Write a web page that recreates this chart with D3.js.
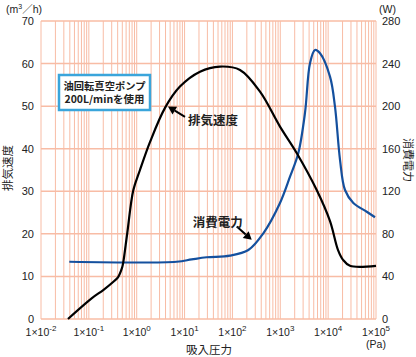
<!DOCTYPE html>
<html><head><meta charset="utf-8">
<script src="https://cdn.jsdelivr.net/npm/d3@7"></script>
<style>
body{margin:0;background:#fff;}
svg{display:block;}
text{font-family:"Liberation Sans","Noto Sans CJK JP",sans-serif;fill:#222;}
.jp{font-family:"Noto Sans CJK JP",sans-serif;}
</style></head>
<body>
<svg id="c" width="416" height="357"></svg>
<script>
// ---- data ----
const speedPressure = [0.0366, 0.116, 0.2, 0.33, 0.406, 0.493, 0.525, 0.635, 0.85, 1.17, 1.9, 3.9, 8.0, 21, 55, 144, 377, 986, 2200, 5770, 10940, 16100, 20500, 28600, 100000];
const speedValues   = [0, 4.9, 6.8, 8.8, 9.8, 12.0, 13.4, 20.2, 30.3, 35.0, 41.6, 49.6, 54.6, 58.1, 59.3, 58.5, 53.4, 45.2, 39.0, 30.3, 23.0, 16.2, 13.9, 12.5, 12.5];
const powerPressure = [0.039, 6.84, 14.1, 29, 89, 215, 442, 986, 1596, 2383, 3281, 4178, 5309, 6761, 10940, 13900, 17700, 22500, 33600, 64000, 95300];
const powerValues   = [53.8, 53.8, 56, 58, 59.5, 64.8, 80.5, 109, 133.7, 156, 193.6, 240.3, 252.8, 249.7, 227.7, 199.5, 149.6, 121.2, 109, 100.8, 95.6];
const leftTicks  = [0, 10, 20, 30, 40, 50, 60, 70];
const rightTicks = [0, 40, 80, 120, 160, 200, 240, 280];
const xExponents = [-2, -1, 0, 1, 2, 3, 4, 5];

// ---- layout ----
const L = 41, R = 376, T = 21, B = 319;
const svg = d3.select("#c");
const x = d3.scaleLog().domain([0.01, 1e5]).range([L, R]);
const y = d3.scaleLinear().domain([0, 70]).range([B, T]);
const y2 = d3.scaleLinear().domain([0, 280]).range([B, T]);

// grid
const gridColor = "#f8bca5";
const minor = [];
for (let k = -2; k <= 4; k++) for (let m = 1; m <= 9; m++) minor.push(m * Math.pow(10, k));
minor.push(1e5);
svg.append("g").selectAll("line").data(minor).join("line")
  .attr("x1", d => x(d)).attr("x2", d => x(d)).attr("y1", T).attr("y2", B)
  .attr("stroke", gridColor).attr("stroke-width", 1);
svg.append("g").selectAll("line").data(leftTicks).join("line")
  .attr("x1", L).attr("x2", R).attr("y1", d => y(d)).attr("y2", d => y(d))
  .attr("stroke", gridColor).attr("stroke-width", 1.5);

// left ticks
svg.append("g").selectAll("text").data(leftTicks).join("text")
  .attr("x", 34).attr("y", d => y(d) + 4).attr("text-anchor", "end")
  .attr("font-size", 11).text(d => d);
// right ticks
svg.append("g").selectAll("text").data(rightTicks).join("text")
  .attr("x", 382).attr("y", d => y2(d) + 4).attr("text-anchor", "start")
  .attr("font-size", 11).text(d => d);

// x tick labels
const xl = svg.append("g").selectAll("text").data(xExponents).join("text")
  .attr("x", d => x(Math.pow(10, d))).attr("y", 336).attr("text-anchor", "middle")
  .attr("font-size", 10.5);
xl.append("tspan").text("1×10");
xl.append("tspan").attr("dy", -5).attr("font-size", 8).text(d => d);

// units
const u1 = svg.append("text").attr("x", 6).attr("y", 13).attr("font-size", 10.5);
u1.append("tspan").text("(m");
u1.append("tspan").attr("dy", -4).attr("font-size", 7).text("3");
u1.append("tspan").attr("dy", 4).text("／h)");
svg.append("text").attr("x", 379).attr("y", 13).attr("font-size", 10.5).text("(W)");
svg.append("text").attr("x", 376).attr("y", 348).attr("text-anchor", "middle").attr("font-size", 10.5).text("(Pa)");

// axis titles
svg.append("text").attr("class", "jp").attr("x", 209).attr("y", 354).attr("text-anchor", "middle")
  .attr("font-size", 11.5).text("吸入圧力");
svg.append("text").attr("class", "jp").attr("transform", "translate(12,168) rotate(-90)")
  .attr("text-anchor", "middle").attr("font-size", 11.5).text("排気速度");
svg.append("text").attr("class", "jp").attr("transform", "translate(404,160) rotate(90)")
  .attr("text-anchor", "middle").attr("font-size", 11).text("消費電力");

// curves
const speedPts = speedPressure.map((p, i) => [x(p), y(speedValues[i])]);
const powerPts = powerPressure.map((p, i) => [x(p), y2(powerValues[i])]);
const line = d3.line().curve(d3.curveCatmullRom.alpha(0.5));
svg.append("path").attr("d", line(powerPts)).attr("fill", "none")
  .attr("stroke", "#14509e").attr("stroke-width", 2.2);
svg.append("path").attr("d", line(speedPts)).attr("fill", "none")
  .attr("stroke", "#000").attr("stroke-width", 2.2);

// legend box
svg.append("rect").attr("x", 59).attr("y", 75).attr("width", 91).attr("height", 35)
  .attr("fill", "#fff").attr("stroke", "#3aa5db").attr("stroke-width", 2.5);
svg.append("text").attr("class", "jp").attr("x", 104.5).attr("y", 89.5).attr("text-anchor", "middle")
  .attr("font-size", 10).attr("font-weight", "bold")
  .attr("textLength", 82).attr("lengthAdjust", "spacingAndGlyphs").text("油回転真空ポンプ");
svg.append("text").attr("class", "jp").attr("x", 104.5).attr("y", 103).attr("text-anchor", "middle")
  .attr("font-size", 10).attr("font-weight", "bold")
  .attr("textLength", 80).attr("lengthAdjust", "spacingAndGlyphs").text("200L/minを使用");

// annotations with arrows
function arrow(x1, y1, x2, y2) {
  const g = svg.append("g");
  const a = Math.atan2(y2 - y1, x2 - x1);
  const hl = 8, hw = 4.5;
  const bx = x2 - hl * Math.cos(a), by = y2 - hl * Math.sin(a);
  g.append("line").attr("x1", x1).attr("y1", y1).attr("x2", bx).attr("y2", by)
    .attr("stroke", "#000").attr("stroke-width", 2);
  g.append("path").attr("d",
    `M${x2},${y2}L${bx + hw * Math.sin(a)},${by - hw * Math.cos(a)}L${bx - hw * Math.sin(a)},${by + hw * Math.cos(a)}Z`)
    .attr("fill", "#000");
}
arrow(x(10.2), y(47.5), x(4.5), y(49.9));
svg.append("text").attr("class", "jp").attr("x", x(11.8)).attr("y", y(46.7) + 4.5)
  .attr("font-size", 12.5).attr("font-weight", "bold").text("排気速度");
arrow(x(123), y(21.7), x(253), y(18.6));
svg.append("text").attr("class", "jp").attr("x", x(14.8)).attr("y", y(22.6) + 4.5)
  .attr("font-size", 12.5).attr("font-weight", "bold").text("消費電力");
</script>
</body></html>
